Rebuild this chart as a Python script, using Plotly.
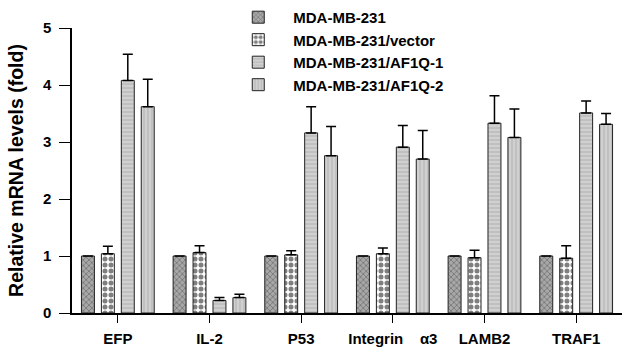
import plotly.graph_objects as go

categories = ["EFP", "IL-2", "P53", "Integrin    α3", "LAMB2", "TRAF1"]
series_names = ["MDA-MB-231", "MDA-MB-231/vector", "MDA-MB-231/AF1Q-1", "MDA-MB-231/AF1Q-2"]
val_parental = [1.0, 1.0, 1.0, 1.0, 1.0, 1.0]
err_parental = [0, 0, 0, 0, 0, 0]
val_vector = [1.04, 1.06, 1.02, 1.04, 0.97, 0.96]
err_vector = [0.13, 0.12, 0.07, 0.10, 0.13, 0.22]
val_af1 = [4.08, 0.22, 3.16, 2.91, 3.33, 3.51]
err_af1 = [0.46, 0.05, 0.46, 0.38, 0.48, 0.21]
val_af2 = [3.62, 0.27, 2.76, 2.70, 3.08, 3.31]
err_af2 = [0.48, 0.06, 0.51, 0.50, 0.50, 0.19]

values = [val_parental, val_vector, val_af1, val_af2]
errors = [err_parental, err_vector, err_af1, err_af2]
patterns = [
    dict(shape="x", fgcolor="#3a3a3a", bgcolor="#a8a8a8", size=4, solidity=0.35),
    dict(shape=".", fgcolor="#000000", bgcolor="#ffffff", size=6, solidity=0.55),
    dict(shape="-", fgcolor="#ffffff", bgcolor="#c0c0c0", size=4, solidity=0.25),
    dict(shape="|", fgcolor="#ffffff", bgcolor="#c0c0c0", size=4, solidity=0.25),
]

font = "Liberation Sans, Arial, sans-serif"
fig = go.Figure()
for name, v, e, p in zip(series_names, values, errors, patterns):
    fig.add_trace(go.Bar(
        name=name, x=categories, y=v,
        marker=dict(color=p["bgcolor"], pattern=p,
                    line=dict(color="#222222", width=1)),
        error_y=dict(type="data", symmetric=False, array=e,
                     arrayminus=[0] * len(e), color="black",
                     thickness=1.5, width=5, visible=True),
    ))

fig.update_layout(
    width=622, height=351,
    margin=dict(l=72, r=0, t=28, b=38),
    paper_bgcolor="white", plot_bgcolor="white",
    barmode="group", bargap=0.13, bargroupgap=0.35,
    font=dict(family=font, size=15, color="black"),
    showlegend=True,
    legend=dict(x=0.275, y=1.095, xanchor="left", yanchor="top",
                font=dict(family=font, size=15, color="black", weight="bold"),
                bgcolor="rgba(0,0,0,0)", itemwidth=60, tracegroupgap=0),
    xaxis=dict(showline=True, linecolor="black", linewidth=1.5,
               ticks="outside", ticklen=8, tickcolor="black", tickwidth=1.2,
               tickfont=dict(family=font, size=15, weight="bold"),
               ticklabelstandoff=3,
               range=[-0.5, 5.5], showgrid=False, zeroline=False),
    yaxis=dict(showline=True, linecolor="black", linewidth=1.5,
               ticks="outside", ticklen=11, tickcolor="black", tickwidth=1.2,
               tickfont=dict(family=font, size=15, weight="bold"),
               ticklabelstandoff=5,
               range=[0, 5], dtick=1, showgrid=False, zeroline=False,
               title=dict(text="Relative mRNA levels (fold)", standoff=14,
                          font=dict(family=font, size=19.5, weight="bold"))),
)

fig.write_html("out.html", post_script="document.body.style.margin='0';",
               config={"displayModeBar": False})
